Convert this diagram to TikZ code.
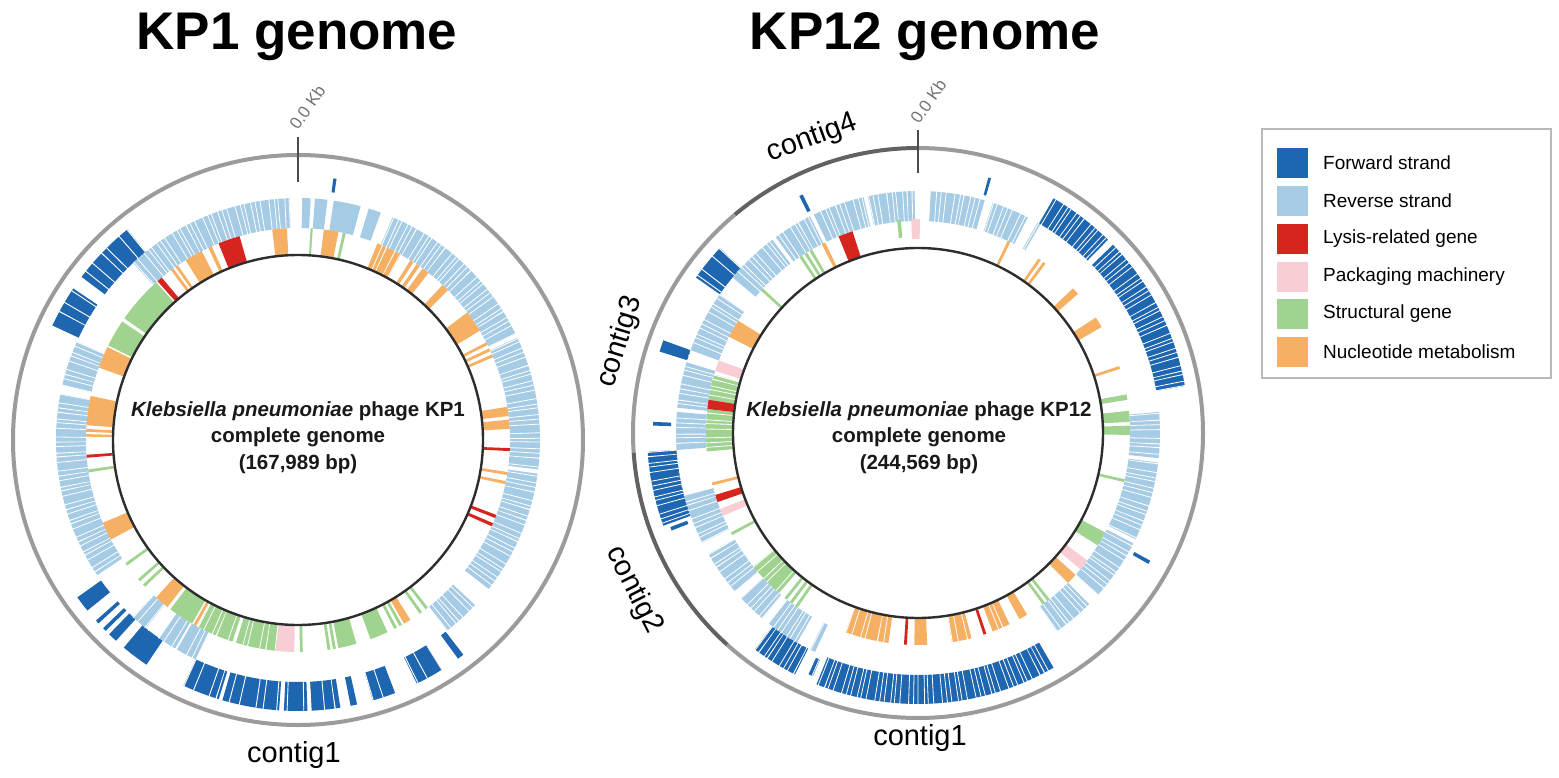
\documentclass[tikz,border=0pt]{standalone}
\usepackage{fontspec}
\setmainfont{Liberation Sans}
\definecolor{fwd}{RGB}{30,102,176}
\definecolor{rev}{RGB}{166,203,229}
\definecolor{lys}{RGB}{214,36,30}
\definecolor{pack}{RGB}{248,206,212}
\definecolor{struc}{RGB}{160,211,144}
\definecolor{nuc}{RGB}{245,176,100}
\definecolor{ringlight}{RGB}{155,155,155}
\definecolor{ringdark}{RGB}{98,98,98}
\definecolor{innerc}{RGB}{45,45,45}
\definecolor{legbox}{RGB}{185,185,185}
\newcommand{\gseg}[5]{\fill[#5] (#1:#4) arc[start angle=#1, end angle=#2, radius=#4] -- (#2:#3) arc[start angle=#2, end angle=#1, radius=#3] -- cycle;}
\newcommand{\gstripe}[5]{\draw[#5, line width=#4pt] (#1:#3) arc[start angle=#1, end angle=#2, radius=#3];}
\tikzset{
  sparse/.style={white, dash pattern=on 0.9pt off 9pt on 0.9pt off 15pt on 0.9pt off 6pt on 0.9pt off 12pt},
  dense/.style={white, dash pattern=on 0.8pt off 3.4pt on 0.8pt off 5.6pt on 0.8pt off 2.6pt on 0.8pt off 4.4pt on 0.8pt off 7.5pt on 0.8pt off 3.9pt},
  medium/.style={white, dash pattern=on 0.8pt off 5pt on 0.8pt off 8pt on 0.8pt off 3.5pt on 0.8pt off 11pt},
  titletext/.style={font=\fontsize{53}{60}\selectfont\bfseries, inner sep=0pt},
  centertext/.style={font=\fontsize{20.5}{24}\selectfont\bfseries, inner sep=0pt, text=black!90},
  contigtext/.style={font=\fontsize{29}{33}\selectfont, inner sep=0pt},
  kbtext/.style={font=\fontsize{17}{19}\selectfont, text=black!55, inner sep=0pt},
  legtext/.style={font=\fontsize{19}{22}\selectfont, inner sep=0pt, anchor=west},
  ticklinestyle/.style={draw=black!70, line width=2.6pt}
}
\begin{document}
\begin{tikzpicture}[x=1pt,y=-1pt]
\useasboundingbox (0,0) rectangle (1559,778);
\fill[white] (0,0) rectangle (1559,778);

% titles
\node[titletext, anchor=base] (title1) at (297,50) {KP1 genome};
\node[titletext, anchor=base] (title2) at (925,50) {KP12 genome};

% ================= KP1 =================
\begin{scope}[shift={(298,440)}, x=1pt, y=1pt]
  % outer ring
  \draw[ringlight, line width=4pt] (0,0) circle[radius=285];
  \draw[ticklinestyle] (90:258) -- (90:303);
  % forward strand
  \foreach \a/\b in {129/143, 146/155, 215.5/219, 221.8/222.6, 224/224.8, 225.8/227.8, 230/236, 245/253, 253.8/266, 267/272, 272.8/279, 281.2/282.6, 286/291, 296/302, 306.2/307.6}
    {\gseg{\a}{\b}{242}{271}{fwd}}
  \gseg{81.6}{82.3}{250}{264}{fwd}
  \gstripe{245}{279}{256.5}{30}{sparse}
  \gstripe{129}{155}{256.5}{30}{sparse}
  \gstripe{286}{302}{256.5}{30}{sparse}
  % reverse strand
  \foreach \a/\b in {92/133, 87/89, 83/86, 75/81.5, 70/73, 322/352, 353/385, 386/427, 308/317, 156/167, 169/214, 227/231, 235/239.5, 240/245}
    {\gseg{\a}{\b}{212}{242}{rev}}
  \gstripe{92}{133}{227}{31}{dense}
  \gstripe{156}{214}{227}{31}{dense}
  \gstripe{308}{427}{227}{31}{dense}
  \gstripe{227}{245}{227}{31}{medium}
  % functional
  \foreach \a/\b in {132/145, 146/153.5, 188/188.8, 215.5/216.3, 221/221.8, 223/223.8, 233/240, 241.8/252, 253/264, 270.5/271.3, 278/278.8, 279.5/280.3, 281/286, 290/295, 297/297.8, 298.6/299.4, 305/305.8, 307/307.8, 77/77.8, 86/86.6}
    {\gseg{\a}{\b}{186}{212}{struc}}
  \foreach \a/\b in {93/97, 114/115, 117/122, 124.5/125.3, 126/126.8, 154/160, 168/176, 177/177.8, 178.4/179.1, 203/208, 228/232, 240.5/241.3, 300/302, 3/5.5, 6.5/9, 23/23.8, 24.8/25.6, 26.6/27.4, 31/37, 45/47, 52/54, 55/56, 57/58, 61/68, 79/83, 348/348.8, 350.5/351.3}
    {\gseg{\a}{\b}{186}{212}{nuc}}
  \foreach \a/\b in {106/112, 130/131.5, 184/184.8, 336/336.9, 338.4/339.3, 357/357.8}
    {\gseg{\a}{\b}{186}{212}{lys}}
  \gseg{264}{269}{186}{212}{pack}
  \gstripe{241.8}{264}{199}{27}{medium}
  \gstripe{61}{68}{199}{27}{medium}
  % inner circle
  \draw[innerc, line width=2.4pt] (0,0) circle[radius=185];
\end{scope}
\node[kbtext, rotate=55, anchor=base west] (kb1) at (298,131) {0.0 Kb};
\node[centertext] (c1a) at (298,411) {\textit{Klebsiella pneumoniae} phage KP1};
\node[centertext] (c1b) at (298,437) {complete genome};
\node[centertext] (c1c) at (298,464) {(167,989 bp)};
\node[contigtext, anchor=base] (k1c1) at (294,762) {contig1};

% ================= KP12 =================
\begin{scope}[shift={(918,433)}, x=1pt, y=1pt]
  % outer ring with contigs
  \draw[ringdark, line width=4pt] (90:285) arc[start angle=90, end angle=130, radius=285];
  \draw[ringlight, line width=4pt] (130:285) arc[start angle=130, end angle=184, radius=285];
  \draw[ringdark, line width=4pt] (184:285) arc[start angle=184, end angle=228, radius=285];
  \draw[ringlight, line width=4pt] (228:285) arc[start angle=228, end angle=450, radius=285];
  \draw[ticklinestyle] (90:260) -- (90:303);
  % forward strand
  \foreach \a/\b in {10/44, 45.5/60, 137/145, 160/162.5, 184/200, 233/243, 248/300}
    {\gseg{\a}{\b}{242}{271}{fwd}}
  \foreach \a/\b in {74/74.6, 115.8/116.6, 177.6/178.4, 200.8/201.6, 245.6/246.6, 330.4/331.2}
    {\gseg{\a}{\b}{247}{265}{fwd}}
  \gstripe{10}{60}{256.5}{30}{dense}
  \gstripe{184}{200}{256.5}{30}{dense}
  \gstripe{233}{300}{256.5}{30}{dense}
  \gstripe{137}{145}{256.5}{30}{sparse}
  % reverse strand
  \foreach \a/\b in {90.8/102, 103/115.5, 74/87, 63/72, 116.5/126, 127/140, 145/160, 163/174, 175/184, 195/207, 210/221, 223/230, 232/240, 243.5/244.8, 305/315, 318/333, 334/353, 354/365}
    {\gseg{\a}{\b}{212}{242}{rev}}
  \gseg{59.6}{60.4}{212}{242}{rev}
  \gstripe{60}{140}{227}{31}{dense}
  \gstripe{145}{244}{227}{31}{dense}
  \gstripe{305}{365}{227}{31}{dense}
  % functional
  \foreach \a/\b in {120/120.8, 121.6/122.4, 123.2/124, 137/137.8, 164/185, 208/208.8, 219/229, 231/231.8, 232.8/233.6, 234.6/235.4, 306/306.8, 307.6/308.4, 328/332, 346.6/347.4, 359.5/362, 363/366, 369/370.5}
    {\gseg{\a}{\b}{186}{212}{struc}}
  \gseg{94.6}{95.6}{196}{214}{struc}
  \gstripe{164}{185}{199}{27}{dense}
  \gstripe{219}{229}{199}{27}{medium}
  \foreach \a/\b in {116/117, 148/153, 193.5/194.3, 250/262, 269/272.5, 279.2/284.8, 290.6/295.6, 298.6/301, 315/318, 17.6/18.4, 30/33, 41/43, 53/53.8, 54.6/55.4, 64.2/65}
    {\gseg{\a}{\b}{186}{212}{nuc}}
  \gstripe{250}{262}{199}{27}{medium}
  \gstripe{279.2}{295.6}{199}{27}{medium}
  \foreach \a/\b in {108/112, 171/173.5, 197/199, 266.2/267, 288/288.8}
    {\gseg{\a}{\b}{186}{212}{lys}}
  \foreach \a/\b in {160/163, 201/203, 320/323}
    {\gseg{\a}{\b}{186}{212}{pack}}
  \gseg{89.5}{91.8}{194}{214}{pack}
  % inner circle
  \draw[innerc, line width=2.4pt] (0,0) circle[radius=185];
\end{scope}
\node[kbtext, rotate=55, anchor=base west] (kb2) at (919,125) {0.0 Kb};
\node[centertext] (c2a) at (919,411) {\textit{Klebsiella pneumoniae} phage KP12};
\node[centertext] (c2b) at (919,437) {complete genome};
\node[centertext] (c2c) at (919,464) {(244,569 bp)};
\node[contigtext, anchor=base] (k2c1) at (920,745) {contig1};
\node[contigtext, rotate=20] (k2c4) at (812,138) {contig4};
\node[contigtext, rotate=73] (k2c3) at (620,342) {contig3};
\node[contigtext, rotate=-63] (k2c2) at (634,590) {contig2};

% ================= legend =================
\draw[legbox, line width=2.5pt] (1262,129) rectangle (1551,378);
\fill[fwd]   (1277,148) rectangle (1308,178);
\fill[rev]   (1277,186) rectangle (1308,216);
\fill[lys]   (1277,224) rectangle (1308,254);
\fill[pack]  (1277,262) rectangle (1308,292);
\fill[struc] (1277,299) rectangle (1308,329);
\fill[nuc]   (1277,337) rectangle (1308,367);
\node[legtext] (l1) at (1323,163) {Forward strand};
\node[legtext] (l2) at (1323,201) {Reverse strand};
\node[legtext] (l3) at (1323,239) {Lysis-related gene};
\node[legtext] (l4) at (1323,277) {Packaging machinery};
\node[legtext] (l5) at (1323,314) {Structural gene};
\node[legtext] (l6) at (1323,352) {Nucleotide metabolism};
\end{tikzpicture}
\end{document}
